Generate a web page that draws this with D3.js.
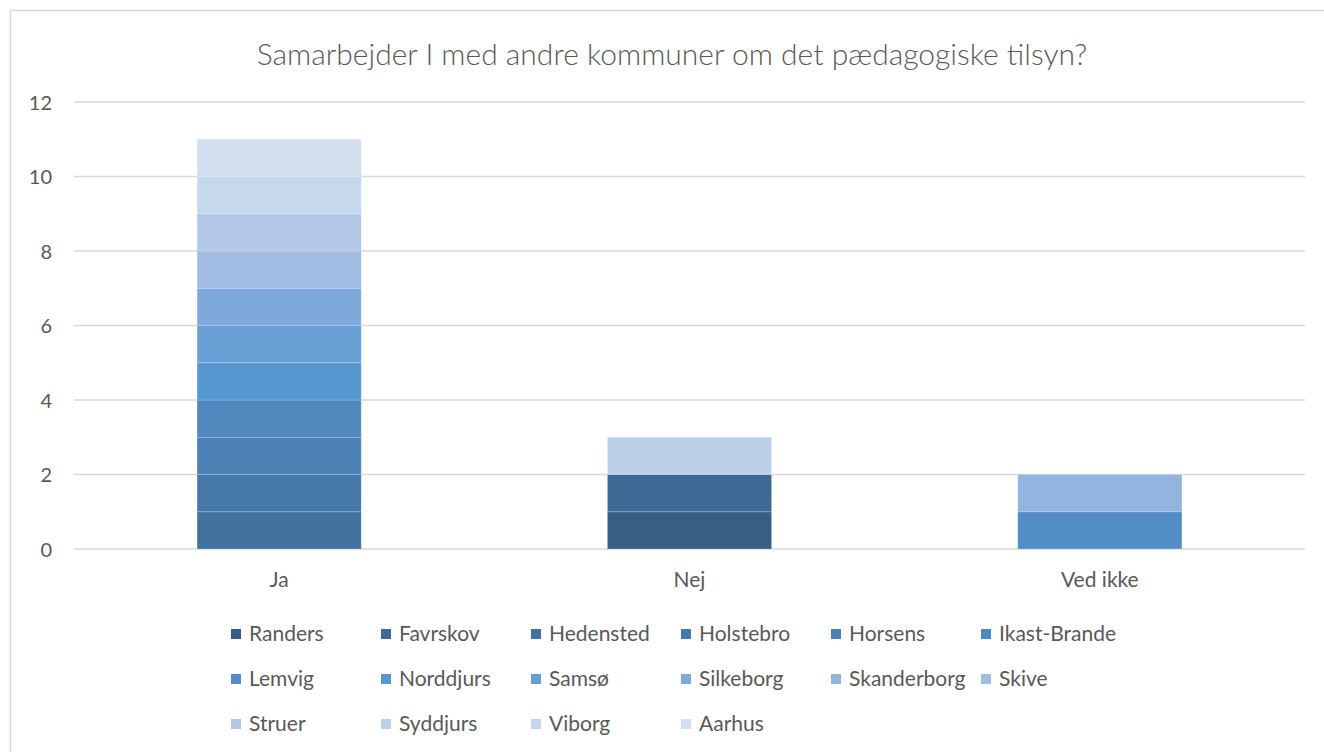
<!DOCTYPE html>
<html><head><meta charset="utf-8">
<script src="https://cdn.jsdelivr.net/npm/d3@7"></script>
<style>body{margin:0;background:#fff}svg{display:block}text{font-family:Lato,"Open Sans",sans-serif;fill:#595959}</style>
</head><body>
<svg id="c" width="1324" height="752"></svg>
<script>
const title = "Samarbejder I med andre kommuner om det pædagogiske tilsyn?";
const categories = ["Ja", "Nej", "Ved ikke"];
const seriesNames = ["Randers","Favrskov","Hedensted","Holstebro","Horsens","Ikast-Brande","Lemvig","Norddjurs","Samsø","Silkeborg","Skanderborg","Skive","Struer","Syddjurs","Viborg","Aarhus"];
const seriesValues = [
  [0,1,0],[0,1,0],[1,0,0],[1,0,0],[1,0,0],[1,0,0],[0,0,1],[1,0,0],
  [1,0,0],[1,0,0],[0,0,1],[1,0,0],[1,0,0],[0,1,0],[1,0,0],[1,0,0]
];
const seriesColors = ["#375f86","#3c6a94","#4272a0","#4679aa","#4b81b4","#4f88bd","#528ec5","#5797cf","#68a0d6","#7eaadb","#92b4df","#a0bce2","#b2c7e6","#bdd0ea","#c7d7ec","#d3deef"];
const yTicks = [0,2,4,6,8,10,12];

const svg = d3.select("#c");
svg.append("rect").attr("x",10.5).attr("y",10.5).attr("width",1330).attr("height",760)
  .attr("fill","#fff").attr("stroke","#d9d9d9").attr("stroke-width",1.5);

const L=74, R=1305, T=102, B=549;
const x = d3.scaleBand().domain(categories).range([L,R]).padding(0);
const y = d3.scaleLinear().domain([0,12]).range([B,T]);

svg.append("text").attr("x",672).attr("y",54).attr("dy","0.35em").attr("text-anchor","middle")
  .style("font-size","30px").style("font-weight","300").text(title);

const grid = svg.append("g");
grid.selectAll("line").data(yTicks).join("line")
  .attr("x1",L).attr("x2",R).attr("y1",d=>y(d)).attr("y2",d=>y(d))
  .attr("stroke","#d9d9d9").attr("stroke-width",1.5);
const yAxis = svg.append("g").attr("transform",`translate(${L-22},0)`)
  .call(d3.axisLeft(y).tickValues(yTicks).tickSize(0).tickPadding(0));
yAxis.select(".domain").remove();
yAxis.selectAll("text").style("font-size","20px").attr("fill","#595959").attr("dy","0.35em");

const xAxis = svg.append("g").attr("transform",`translate(0,${B})`)
  .call(d3.axisBottom(x).tickSize(0).tickPadding(0));
xAxis.select(".domain").remove();
xAxis.selectAll("text").style("font-size","21px").attr("fill","#595959").attr("y",31).attr("dy","0.35em");

const table = categories.map((c,i)=>{const o={cat:c}; seriesNames.forEach((s,j)=>o[s]=seriesValues[j][i]); return o;});
const stacked = d3.stack().keys(seriesNames)(table);
const bw = x.bandwidth()*0.4;
svg.append("g").selectAll("g").data(stacked).join("g")
  .attr("fill",(d,i)=>seriesColors[i])
  .selectAll("rect").data(d=>d.filter(p=>p[1]-p[0]>0)).join("rect")
  .attr("x",d=>x(d.data.cat)+x.bandwidth()/2-bw/2).attr("width",bw)
  .attr("y",d=>y(d[1])).attr("height",d=>y(d[0])-y(d[1]))
  .attr("stroke","rgba(255,255,255,0.2)").attr("stroke-width",1);

const leg = svg.append("g");
const items = leg.selectAll("g").data(seriesNames).join("g")
  .attr("transform",(d,i)=>`translate(${231+150*(i%6)},${634+45*Math.floor(i/6)})`);
items.append("rect").attr("x",0).attr("y",-5).attr("width",10).attr("height",10)
  .attr("fill",(d,i)=>seriesColors[i]);
items.append("text").attr("x",18).attr("y",0).attr("dy","0.35em")
  .style("font-size","21px").text(d=>d);
</script>
</body></html>
